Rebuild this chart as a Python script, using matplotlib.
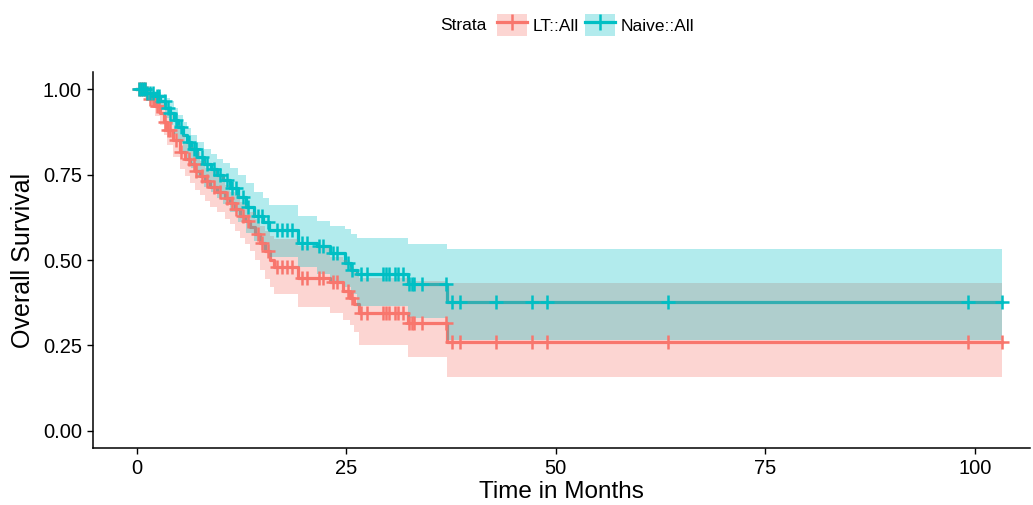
import matplotlib
matplotlib.use("Agg")
import matplotlib.pyplot as plt
import numpy as np
from matplotlib.patches import Patch
from matplotlib.lines import Line2D
from matplotlib.legend_handler import HandlerTuple

plt.rcParams['font.family'] = ['Liberation Sans', 'DejaVu Sans']

# --- Kaplan-Meier estimates ---
# Naive::All
naive_t = [0, 1.0, 2.0, 2.7, 3.4, 3.9, 4.4, 4.9, 5.5, 6.0,
           6.5, 7.2, 8.0, 8.8, 9.6, 10.3, 11.1, 12.0, 13.0, 14.0,
           15.0, 15.8, 19.2, 21.5, 23.0, 24.8, 25.5, 26.3, 32.3, 37.0]
naive_s = [1.0, 0.99, 0.98, 0.965, 0.945, 0.93, 0.91, 0.89, 0.865, 0.845,
           0.825, 0.80, 0.78, 0.765, 0.75, 0.735, 0.71, 0.685, 0.655, 0.63,
           0.61, 0.588, 0.55, 0.54, 0.52, 0.49, 0.472, 0.46, 0.43, 0.377]
naive_lo = [1.0, 0.98, 0.96, 0.94, 0.915, 0.895, 0.87, 0.845, 0.815, 0.79,
            0.77, 0.74, 0.715, 0.70, 0.68, 0.665, 0.64, 0.61, 0.58, 0.555,
            0.53, 0.51, 0.48, 0.46, 0.44, 0.42, 0.40, 0.365, 0.33, 0.266]
naive_hi = [1.0, 1.0, 0.995, 0.985, 0.975, 0.965, 0.945, 0.925, 0.905, 0.885,
            0.865, 0.845, 0.825, 0.81, 0.795, 0.785, 0.77, 0.75, 0.725, 0.70,
            0.68, 0.66, 0.63, 0.615, 0.60, 0.59, 0.575, 0.564, 0.547, 0.532]

# LT::All
lt_t = [0, 1.0, 1.5, 2.2, 2.7, 3.2, 3.6, 4.3, 5.1, 5.7,
        6.3, 6.9, 7.5, 8.1, 8.7, 9.5, 10.5, 11.1, 11.7, 12.3,
        12.9, 13.5, 14.1, 14.7, 15.3, 15.9, 16.3, 19.2, 23.0, 24.6,
        25.4, 25.9, 26.5, 32.3, 37.0]
lt_s = [1.0, 0.99, 0.97, 0.95, 0.93, 0.905, 0.88, 0.85, 0.815, 0.795,
        0.78, 0.76, 0.745, 0.73, 0.715, 0.70, 0.68, 0.667, 0.65, 0.63,
        0.615, 0.596, 0.575, 0.55, 0.525, 0.50, 0.48, 0.447, 0.436, 0.41,
        0.39, 0.37, 0.345, 0.316, 0.26]
lt_lo = [1.0, 0.975, 0.945, 0.92, 0.895, 0.865, 0.835, 0.80, 0.765, 0.745,
         0.725, 0.705, 0.69, 0.672, 0.655, 0.64, 0.62, 0.605, 0.585, 0.565,
         0.547, 0.525, 0.50, 0.47, 0.445, 0.42, 0.40, 0.363, 0.345, 0.325,
         0.31, 0.29, 0.251, 0.217, 0.158]
lt_hi = [1.0, 1.0, 0.99, 0.98, 0.965, 0.945, 0.925, 0.895, 0.865, 0.845,
         0.83, 0.815, 0.79, 0.77, 0.76, 0.745, 0.72, 0.70, 0.69, 0.67,
         0.66, 0.64, 0.62, 0.60, 0.585, 0.57, 0.56, 0.54, 0.51, 0.50,
         0.48, 0.465, 0.447, 0.44, 0.433]

# censoring times (same for both strata)
censor_t = [0.3, 0.5, 0.7, 0.9, 1.2, 1.5, 1.9, 2.4, 2.6, 3.3,
            3.7, 4.0, 4.6, 5.3, 6.2, 6.8, 7.0, 7.8, 8.4, 9.2,
            9.9, 10.7, 11.4, 11.8, 12.6, 13.3, 14.4, 14.9, 15.6,
            16.7, 17.3, 17.9, 18.5, 19.7, 20.3, 21.7, 22.2, 23.4, 23.9,
            25.2, 25.7, 26.8, 27.4, 29.4, 29.7, 30.1, 30.8, 31.1, 31.7,
            32.5, 32.8, 33.1, 34.0, 36.9, 37.6, 38.5, 42.8, 47.1, 48.9,
            63.4, 99.2, 103.3]
t_end = 103.3

strata = ['LT::All', 'Naive::All']
colors = ['#F8766D', '#00BFC4']

fig = plt.figure(figsize=(10.33, 5.05), dpi=100)
ax = fig.add_axes([93 / 1033, 57 / 505, (1030 - 93) / 1033, (448 - 72) / 505])

curves = [(lt_t, lt_s, lt_lo, lt_hi), (naive_t, naive_s, naive_lo, naive_hi)]
for (t, s, lo, hi), col in zip(curves, colors):
    tt = np.append(t, t_end)
    ax.step(tt, np.append(s, s[-1]), where='post', color=col, lw=2.3, zorder=2)
for (t, s, lo, hi), col in zip(curves, colors):
    tt = np.append(t, t_end)
    ax.fill_between(tt, np.append(lo, lo[-1]), np.append(hi, hi[-1]),
                    step='post', color=col, alpha=0.3, lw=0, zorder=3)
for (t, s, lo, hi), col in zip(curves, colors):
    idx = np.searchsorted(t, censor_t, side='right') - 1
    ax.plot(censor_t, np.array(s)[idx], ls='none', marker='+', ms=9.5,
            mew=1.8, color=col, zorder=4)

ax.set_xlim(-5.25, 106.6)
ax.set_ylim(-0.05, 1.05)
ax.set_xticks([0, 25, 50, 75, 100])
ax.set_yticks([0, 0.25, 0.5, 0.75, 1.0])
ax.set_yticklabels(['0.00', '0.25', '0.50', '0.75', '1.00'])
ax.tick_params(labelsize=14.5, length=4, width=1, colors='black', pad=4)
for side in ['top', 'right']:
    ax.spines[side].set_visible(False)
for side in ['left', 'bottom']:
    ax.spines[side].set_linewidth(1.1)
ax.set_xlabel('Time in Months', fontsize=17.5, labelpad=2)
ax.set_ylabel('Overall Survival', fontsize=18, labelpad=6)

# legend on top
fig.text(440 / 1033, 1 - 25 / 505, 'Strata', fontsize=12.5, va='center', ha='left')
handles = [(Patch(facecolor=c, alpha=0.3, lw=0),
            Line2D([], [], color=c, lw=2.3, marker='+', ms=11, mew=1.8))
           for c in colors]
fig.legend(handles, strata, loc='center left',
           bbox_to_anchor=(497 / 1033, 1 - 25 / 505), ncol=2, frameon=False,
           fontsize=12.5, handlelength=1.75, handleheight=1.65,
           handletextpad=0.3, columnspacing=0.35, borderpad=0, borderaxespad=0,
           numpoints=1, handler_map={tuple: HandlerTuple(ndivide=1, pad=0)})

plt.savefig('out.png', dpi=100)
